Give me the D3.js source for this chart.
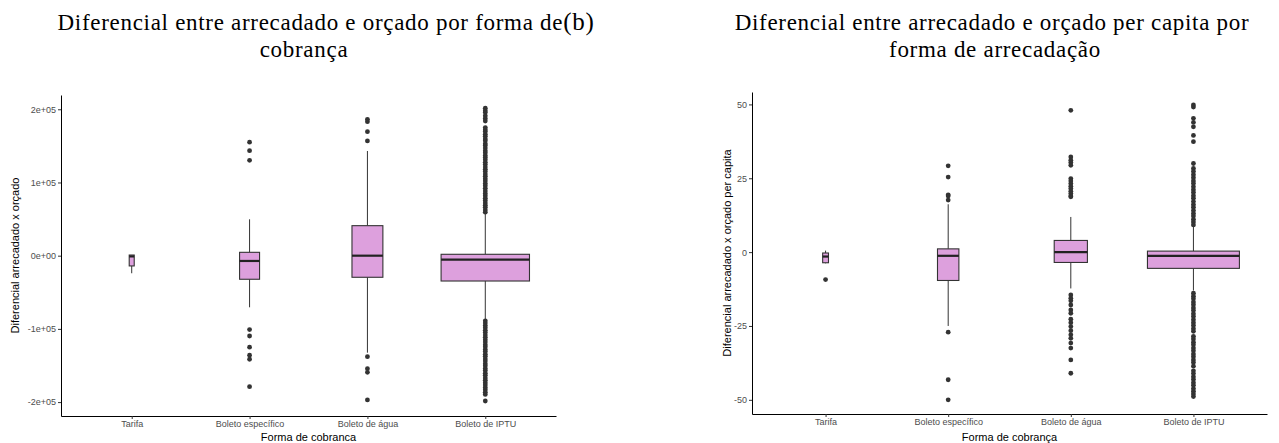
<!DOCTYPE html>
<html>
<head>
<meta charset="utf-8">
<script src="https://cdn.jsdelivr.net/npm/d3@7"></script>
<style>
  body { margin: 0; background: #fff; }
  svg { display: block; }
  .title { font-family: "Liberation Serif", "Times New Roman", serif; font-size: 23px; letter-spacing: 0.7px; fill: #000; }
  .axis text { font-family: "Liberation Sans", Arial, sans-serif; font-size: 9px; fill: #4d4d4d; }
  .axis line { stroke: #333; }
  .axis path { stroke: #000; stroke-width: 1; }
  .axis-title { font-family: "Liberation Sans", Arial, sans-serif; font-size: 11px; fill: #000; }
</style>
</head>
<body>
<div id="chart"></div>
<script>
// --- categories (same for both panels)
const categories = ['Tarifa', 'Boleto específico', 'Boleto de água', 'Boleto de IPTU'];

// --- panel A: diferencial arrecadado x orçado
const countsA = [16, 255, 610, 4990];
// [lower whisker, q1, median, q3, upper whisker]
const statsA = [
    [-24000, -14000, -1000, 900, 900],
    [-70500, -32200, -7200, 4600, 49700],
    [-132500, -29500, 0, 41000, 143000],
    [-87000, -34600, -5500, 1900, 57000]
];
const outliersA = [
    [],
    [155000, 143500, 130300, -101000, -109700, -125000, -136000, -141500, -179000],
    [186300, 183000, 169400, 156700, -138000, -154400, -159300, -197100],
    [201500, 198000, 195500, 191000, 187500, 184000,
     175000, 172000, 169500, 166000, 163000, 159500, 157000, 153000, 150500, 147000,
     143500, 140500, 137000, 134000, 131000, 127500, 124500, 121000, 118000, 115000,
     111500, 108500, 105000, 102000, 98500, 95500, 92000, 88500, 85000, 82000,
     78500, 75500, 72000, 69000, 66000, 62500, 59500,
     -89000, -92000, -95500, -98500, -102000, -105000, -108500, -111500, -115000,
     -118000, -121500, -124500, -128000, -131000, -134500, -137500, -141000, -144000,
     -147500, -150500, -154000, -157000, -160500, -163500, -167000, -170000, -173500,
     -176500, -180000, -183000, -186500, -189500, -198500]
];
const yTicksA = [200000, 100000, 0, -100000, -200000];
const yTickLabelsA = ['2e+05', '1e+05', '0e+00', '-1e+05', '-2e+05'];

// --- panel B: per capita
const countsB = [20, 270, 650, 4990];
const statsB = [
    [-3.8, -3.6, -1.5, -0.3, 0.5],
    [-25, -9.6, -1.25, 1.1, 16.2],
    [-12.3, -3.5, 0, 3.95, 11.9],
    [-13, -5.5, -1.25, 0.34, 8.6]
];
const outliersB = [
    [-9.3],
    [29.2, 25.4, 19.4, 19.0, 17.6, -27.1, -43.2, -50],
    [48, 32.2, 31.1, 30.3, 29.4, 24.9, 24.1, 23.2, 22.3, 21.5, 20.6, 19.8, 19.0, 18.7,
     -14.5, -15.6, -16.5, -17.9, -19.6, -20.7, -22.7, -23.9, -25.2, -26.6, -28.0,
     -29.2, -30.8, -32.5, -36.5, -41.0],
    [49.8, 49.1, 45.3, 43.9, 42.4, 39.5, 37.4, 30.0,
     28.3, 27.3, 26.2, 25.2, 24.1, 23.2, 22.1, 21.1, 20.2, 19.1, 18.2, 17.1, 16.1,
     15.2, 14.1, 13.1, 12.2, 11.1, 10.2, 9.2,
     -13.9, -14.9, -15.8, -16.9, -17.8, -18.9, -19.8, -20.9, -21.8, -22.9, -23.9,
     -24.8, -25.9, -26.8, -28.5, -29.4, -30.5, -31.4, -32.5, -33.4, -34.5, -35.4,
     -36.5, -37.4, -38.6, -40.2, -41.1, -42.2, -43.1, -44.2, -45.1, -46.2, -47.1,
     -48.0, -48.9]
];
const yTicksB = [50, 25, 0, -25, -50];
const yTickLabelsB = ['50', '25', '0', '-25', '-50'];

const width = 1279;
const height = 443;
const fill = '#dda0dd';
const ink = '#333333';

const svg = d3.select('#chart').append('svg')
    .attr('width', width)
    .attr('height', height);

function drawPanel(opt) {
    const x = d3.scalePoint().domain(categories).range([opt.left, opt.right]).padding(0.6);
    const y = d3.scaleLinear().domain(opt.domain).range([opt.bottom, opt.top]);
    const g = svg.append('g');
    const maxN = d3.max(opt.counts);
    const boxW = i => 0.75 * x.step() * Math.sqrt(opt.counts[i] / maxN);

    // title (two lines, each with its own centre)
    opt.title.forEach((line, k) => {
        const t = g.append('text').attr('class', 'title')
            .attr('text-anchor', 'middle')
            .attr('x', opt.titleX[k]).attr('y', 30 + k * 27);
        if (Array.isArray(line)) {
            t.text(line[0]);
            t.append('tspan').attr('font-size', '25px').text(line[1]);
        } else {
            t.text(line);
        }
    });

    // boxes
    const box = g.selectAll('g.box')
        .data(categories)
        .join('g').attr('class', 'box');

    box.append('line')
        .attr('x1', d => x(d)).attr('x2', d => x(d))
        .attr('y1', (d, i) => y(opt.stats[i][4])).attr('y2', (d, i) => y(opt.stats[i][3]))
        .attr('stroke', ink).attr('stroke-width', 1);
    box.append('line')
        .attr('x1', d => x(d)).attr('x2', d => x(d))
        .attr('y1', (d, i) => y(opt.stats[i][1])).attr('y2', (d, i) => y(opt.stats[i][0]))
        .attr('stroke', ink).attr('stroke-width', 1);
    box.append('rect')
        .attr('x', (d, i) => x(d) - boxW(i) / 2)
        .attr('width', (d, i) => boxW(i))
        .attr('y', (d, i) => y(opt.stats[i][3]))
        .attr('height', (d, i) => y(opt.stats[i][1]) - y(opt.stats[i][3]))
        .attr('fill', fill).attr('stroke', ink).attr('stroke-width', 1.1);
    box.append('line')
        .attr('x1', (d, i) => x(d) - boxW(i) / 2).attr('x2', (d, i) => x(d) + boxW(i) / 2)
        .attr('y1', (d, i) => y(opt.stats[i][2])).attr('y2', (d, i) => y(opt.stats[i][2]))
        .attr('stroke', '#222').attr('stroke-width', 2.2);

    // outliers
    box.each(function (d, i) {
        d3.select(this).selectAll('circle')
            .data(opt.outliers[i])
            .join('circle')
            .attr('cx', x(d))
            .attr('cy', v => y(v))
            .attr('r', 2.4)
            .attr('fill', ink);
    });

    // axes
    g.append('g').attr('class', 'axis')
        .attr('transform', `translate(${opt.left},0)`)
        .call(d3.axisLeft(y).tickValues(opt.yTicks)
            .tickFormat((d, i) => opt.yTickLabels[i]).tickSize(3).tickSizeOuter(0).tickPadding(2));
    g.append('g').attr('class', 'axis')
        .attr('transform', `translate(0,${opt.bottom})`)
        .call(d3.axisBottom(x).tickSize(3).tickSizeOuter(0).tickPadding(2));

    g.append('text').attr('class', 'axis-title')
        .attr('text-anchor', 'middle')
        .attr('x', (opt.left + opt.right) / 2).attr('y', height - 2)
        .text(opt.xTitle);
    g.append('text').attr('class', 'axis-title')
        .attr('text-anchor', 'middle')
        .attr('transform', `translate(${opt.yTitleX},${(opt.top + opt.bottom) / 2}) rotate(-90)`)
        .text(opt.yTitle);
}

drawPanel({
    left: 61, right: 556, top: 95, bottom: 416,
    domain: [-219000, 219500],
    counts: countsA, stats: statsA, outliers: outliersA,
    yTicks: yTicksA, yTickLabels: yTickLabelsA,
    title: [['Diferencial entre arrecadado e orçado por forma de', '(b)'], 'cobrança'],
    titleX: [326, 304],
    xTitle: 'Forma de cobranca',
    yTitle: 'Diferencial arrecadado x orçado',
    yTitleX: 19
});

drawPanel({
    left: 752, right: 1267, top: 92, bottom: 414,
    domain: [-54.8, 54.2],
    counts: countsB, stats: statsB, outliers: outliersB,
    yTicks: yTicksB, yTickLabels: yTickLabelsB,
    title: ['Diferencial entre arrecadado e orçado per capita por', 'forma de arrecadação'],
    titleX: [992, 995],
    xTitle: 'Forma de cobrança',
    yTitle: 'Diferencial arrecadado x orçado per capita',
    yTitleX: 731
});
</script>
</body>
</html>
